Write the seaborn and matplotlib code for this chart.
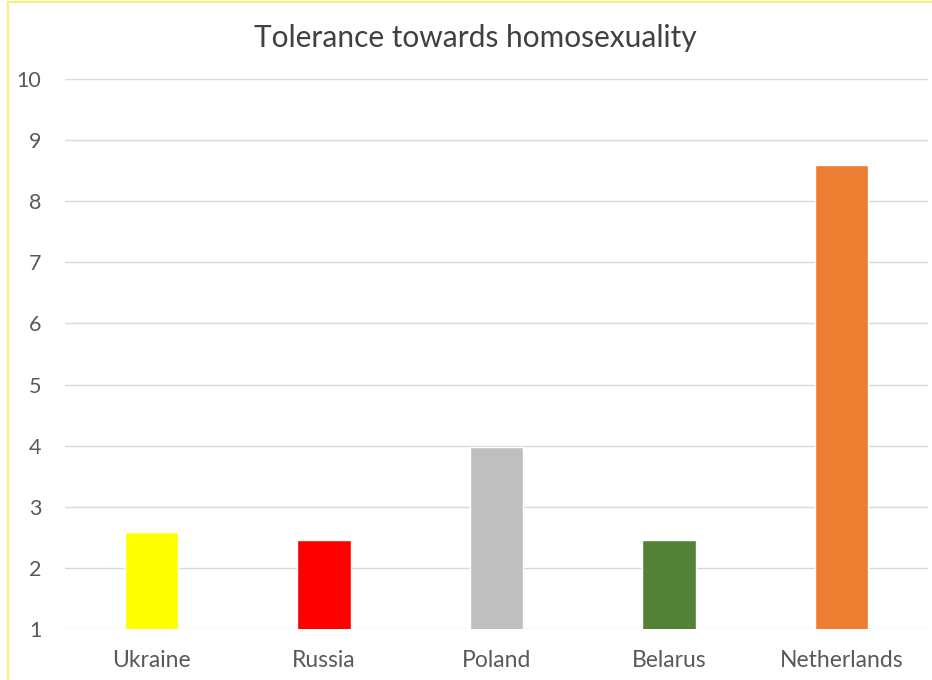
import matplotlib
matplotlib.use("Agg")
import matplotlib.pyplot as plt
import seaborn as sns
import pandas as pd
from matplotlib.lines import Line2D

countries = ["Ukraine", "Russia", "Poland", "Belarus", "Netherlands"]
values = [2.58, 2.46, 3.98, 2.46, 8.6]
colors = ["#FFFF00", "#FF0000", "#BFBFBF", "#538135", "#ED7D31"]
yticks = [1, 2, 3, 4, 5, 6, 7, 8, 9, 10]
title = "Tolerance towards homosexuality"

sns.set_theme(style="white")
plt.rcParams["font.family"] = ["Lato", "DejaVu Sans"]

df = pd.DataFrame({"country": countries, "value": values})

fig = plt.figure(figsize=(9.32, 6.8), dpi=100)
ax = fig.add_axes([65/932, 1 - 629/680, (928 - 65)/932, (629 - 79)/680])

sns.barplot(data=df, x="country", y="value", hue="country",
            palette=dict(zip(countries, colors)), width=0.31,
            legend=False, ax=ax, zorder=3, saturation=1)

ax.set_ylim(1, 10)
ax.set_yticks(yticks)
ax.set_yticklabels([str(t) for t in yticks])
ax.yaxis.grid(True, color="#D9D9D9", linewidth=1, zorder=0)
ax.set_axisbelow(True)
for s in ax.spines.values():
    s.set_visible(False)
ax.tick_params(axis="both", length=0, colors="#595959")
ax.tick_params(axis="x", pad=15, labelsize=16.5)
ax.tick_params(axis="y", pad=17, labelsize=15.5)
ax.set_xlabel("")
ax.set_ylabel("")

fig.text(475/932, 1 - 38/680, title, ha="center", va="center",
         fontsize=21.5, color="#404040")

border = "#F5F07A"
fig.lines.append(Line2D([8/932, 8/932], [0, 1 - 2/680], transform=fig.transFigure,
                        color=border, linewidth=1.5))
fig.lines.append(Line2D([8/932, 1], [1 - 2/680, 1 - 2/680], transform=fig.transFigure,
                        color=border, linewidth=1.5))

fig.savefig("out.png", dpi=100)
